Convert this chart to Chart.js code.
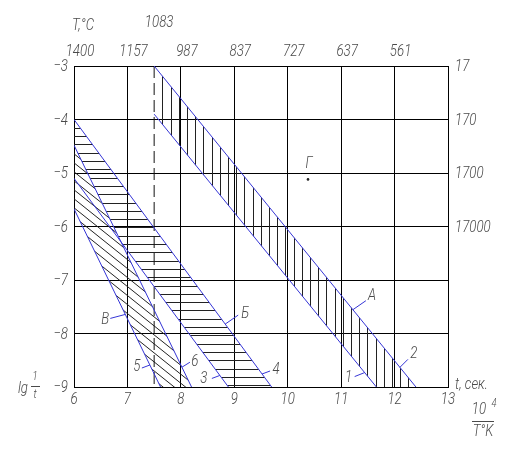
<!DOCTYPE html>
<html lang="ru">
<head>
<meta charset="UTF-8">
<title>lg 1/t — 10^4/T</title>
<script src="https://cdn.jsdelivr.net/npm/chart.js@4"></script>
<style>
  body { margin: 0; background: #fff; }
  #wrap { width: 519px; height: 452px; }
</style>
</head>
<body>
<div id="wrap"><canvas id="chart" width="519" height="452"></canvas></div>
<script>
// шкалы
const xMin = 6, xMax = 13;
const yMin = -9, yMax = -3;
const tempTicks = [6, 7, 8, 9, 10, 11, 12];
const tempLabels = ['1400', '1157', '987', '837', '727', '637', '561']; // T,°C
const timeTicks = [-3, -4, -5, -6];
const timeLabels = ['17', '170', '1700', '17000'];                       // t, сек.

// линии: [10^4/T, lg 1/t]
const lineA = [[7.5, -3], [12.4, -9]];    // А, 2
const line1 = [[7.5, -3.9], [11.66, -9]]; // 1
const lineB = [[6, -4], [9.7, -9]];       // Б, 4
const line3 = [[6, -5.1], [8.89, -9]];    // 3
const line6 = [[6, -4.48], [8.2, -9]];    // 6
const lineV = [[6, -5.67], [7.62, -9]];   // В, 5
const meltX = 7.5;                        // 1083 °C
const pointG = [10.38, -5.12];            // Г

const BLUE = '#3535d6';
const INK = '#4a4a4a';
const FONT = 'italic 300 17px Roboto, "DejaVu Sans", sans-serif';

function yAt(line, x) {
  const [[x1, y1], [x2, y2]] = line;
  return y1 + (y2 - y1) * (x - x1) / (x2 - x1);
}
function cross(l1, l2) {
  const k1 = (l1[1][1] - l1[0][1]) / (l1[1][0] - l1[0][0]);
  const k2 = (l2[1][1] - l2[0][1]) / (l2[1][0] - l2[0][0]);
  const b1 = l1[0][1] - k1 * l1[0][0];
  const b2 = l2[0][1] - k2 * l2[0][0];
  const x = (b2 - b1) / (k1 - k2);
  return [x, k1 * x + b1];
}

// заштрихованные области
const vertBand = [lineA[0], lineA[1], line1[1], line1[0]];
const horizBand = [lineB[0], lineB[1], line3[1], cross(line3, line6), line6[0]];
const diagBand = [line6[0], line6[1], lineV[1], lineV[0]];

const toXY = l => l.map(p => ({x: p[0], y: p[1]}));
function lineSet(l) {
  return { data: toXY(l), showLine: true, borderColor: BLUE, borderWidth: 1, pointRadius: 0 };
}

const hatchPlugin = {
  id: 'hatch',
  beforeDatasetsDraw(chart) {
    const {ctx, chartArea: a, scales: {x, y}} = chart;
    const px = p => [x.getPixelForValue(p[0]), y.getPixelForValue(p[1])];
    function clipPoly(poly) {
      ctx.beginPath();
      poly.map(px).forEach(([u, v], i) => i ? ctx.lineTo(u, v) : ctx.moveTo(u, v));
      ctx.closePath();
      ctx.clip();
    }
    ctx.save();
    ctx.strokeStyle = '#222';
    ctx.lineWidth = 1;

    // вертикальная (А – 1)
    ctx.save();
    clipPoly(vertBand);
    ctx.beginPath();
    for (let u = x.getPixelForValue(meltX) + 8.2; u < a.right; u += 8.2) {
      const s = Math.round(u) + 0.5;
      ctx.moveTo(s, a.top); ctx.lineTo(s, a.bottom);
    }
    ctx.stroke();
    ctx.restore();

    // горизонтальная (Б – 3)
    ctx.save();
    clipPoly(horizBand);
    ctx.beginPath();
    for (let v = y.getPixelForValue(-4) + 8.3; v < a.bottom; v += 8.3) {
      const s = Math.round(v) + 0.5;
      ctx.moveTo(a.left, s); ctx.lineTo(a.right, s);
    }
    ctx.stroke();
    ctx.restore();

    // косая (В – 6)
    ctx.save();
    clipPoly(diagBand);
    ctx.beginPath();
    const k = 0.8, w = a.right - a.left;
    for (let c = a.top - k * w; c < a.bottom; c += 9) {
      ctx.moveTo(a.left, c); ctx.lineTo(a.right, c + k * w);
    }
    ctx.stroke();
    ctx.restore();

    ctx.restore();
  }
};

function txt(ctx, s, u, v, align) {
  ctx.save();
  ctx.translate(u, v);
  ctx.scale(0.78, 1);
  ctx.textAlign = align || 'center';
  ctx.textBaseline = 'middle';
  ctx.fillText(s, 0, 0);
  ctx.restore();
}

const labelPlugin = {
  id: 'labels',
  afterDraw(chart) {
    const {ctx, chartArea: a, scales: {x, y}} = chart;
    ctx.save();
    ctx.font = FONT;
    ctx.fillStyle = INK;

    for (let v = xMin; v <= xMax; v++) txt(ctx, String(v), x.getPixelForValue(v), a.bottom + 13);
    for (let v = yMin; v <= yMax; v++) txt(ctx, '−' + Math.abs(v), a.left - 6, y.getPixelForValue(v) + 1, 'right');
    tempTicks.forEach((v, i) => txt(ctx, tempLabels[i], x.getPixelForValue(v) + 6, a.top - 14));
    timeTicks.forEach((v, i) => txt(ctx, timeLabels[i], a.right + 7, y.getPixelForValue(v) + 1, 'left'));

    txt(ctx, 'T,°C', a.left + 9, 26);
    txt(ctx, '1083', x.getPixelForValue(meltX) + 5, 23);
    txt(ctx, 't, сек.', a.right + 7, a.bottom - 2, 'left');

    // 10^4 / T°K
    txt(ctx, '10', 479, 410);
    ctx.save(); ctx.font = 'italic 300 12px Roboto, "DejaVu Sans", sans-serif';
    txt(ctx, '4', 494, 404); ctx.restore();
    txt(ctx, 'T°K', 483, 432);
    // lg 1/t
    txt(ctx, 'lg', 23, 389);
    ctx.save(); ctx.font = 'italic 300 13px Roboto, "DejaVu Sans", sans-serif';
    txt(ctx, '1', 35, 377); txt(ctx, 't', 35, 395); ctx.restore();

    ctx.strokeStyle = INK;
    ctx.lineWidth = 1;
    ctx.beginPath();
    ctx.moveTo(472, 421.5); ctx.lineTo(494, 421.5);
    ctx.moveTo(31, 386.5); ctx.lineTo(40, 386.5);
    ctx.stroke();

    // подписи линий с выносками
    const marks = [
      ['А', lineA, 11.22, [13, -9], [19, -14]],
      ['2', lineA, 12.1, [8, -8], [14, -14]],
      ['1', line1, 11.44, [-10, 4], [-16, 5]],
      ['Б', lineB, 8.83, [13, -9], [20, -10]],
      ['4', lineB, 9.52, [8, -3], [14, -4]],
      ['3', line3, 8.73, [-8, 3], [-16, 3]],
      ['6', line6, 8.02, [8, -5], [13, -5]],
      ['В', lineV, 6.96, [-15, 4], [-20, 5]],
      ['5', lineV, 7.42, [-8, 3], [-13, 2]]
    ];
    marks.forEach(([t, l, xv, lead, pos]) => {
      const u = x.getPixelForValue(xv), v = y.getPixelForValue(yAt(l, xv));
      ctx.strokeStyle = BLUE;
      ctx.beginPath();
      ctx.moveTo(u, v); ctx.lineTo(u + lead[0], v + lead[1]);
      ctx.stroke();
      txt(ctx, t, u + pos[0], v + pos[1]);
    });
    txt(ctx, 'Г', x.getPixelForValue(pointG[0]) + 1, y.getPixelForValue(pointG[1]) - 16);
    ctx.restore();
  }
};

new Chart(document.getElementById('chart'), {
  type: 'scatter',
  data: {
    datasets: [
      lineSet(lineA), lineSet(line1), lineSet(lineB),
      lineSet(line3), lineSet(line6), lineSet(lineV),
      { data: [{x: meltX, y: yMax}, {x: meltX, y: yMin}], showLine: true, borderColor: '#111',
        borderWidth: 1, borderDash: [12, 5], pointRadius: 0 },
      { data: [{x: pointG[0], y: pointG[1]}], pointRadius: 1.3, backgroundColor: '#222', borderWidth: 0 }
    ]
  },
  options: {
    responsive: false,
    animation: false,
    events: [],
    layout: { padding: { left: 74, right: 71, top: 66, bottom: 65 } },
    plugins: { legend: { display: false }, tooltip: { enabled: false } },
    scales: {
      x: {
        type: 'linear', min: xMin, max: xMax,
        ticks: { stepSize: 1, display: false },
        grid: { color: '#000', lineWidth: 1, drawTicks: false },
        border: { color: '#000' }
      },
      y: {
        type: 'linear', min: yMin, max: yMax,
        ticks: { stepSize: 1, display: false },
        grid: { color: '#000', lineWidth: 1, drawTicks: false },
        border: { color: '#000' }
      }
    }
  },
  plugins: [hatchPlugin, labelPlugin]
});
</script>
</body>
</html>
